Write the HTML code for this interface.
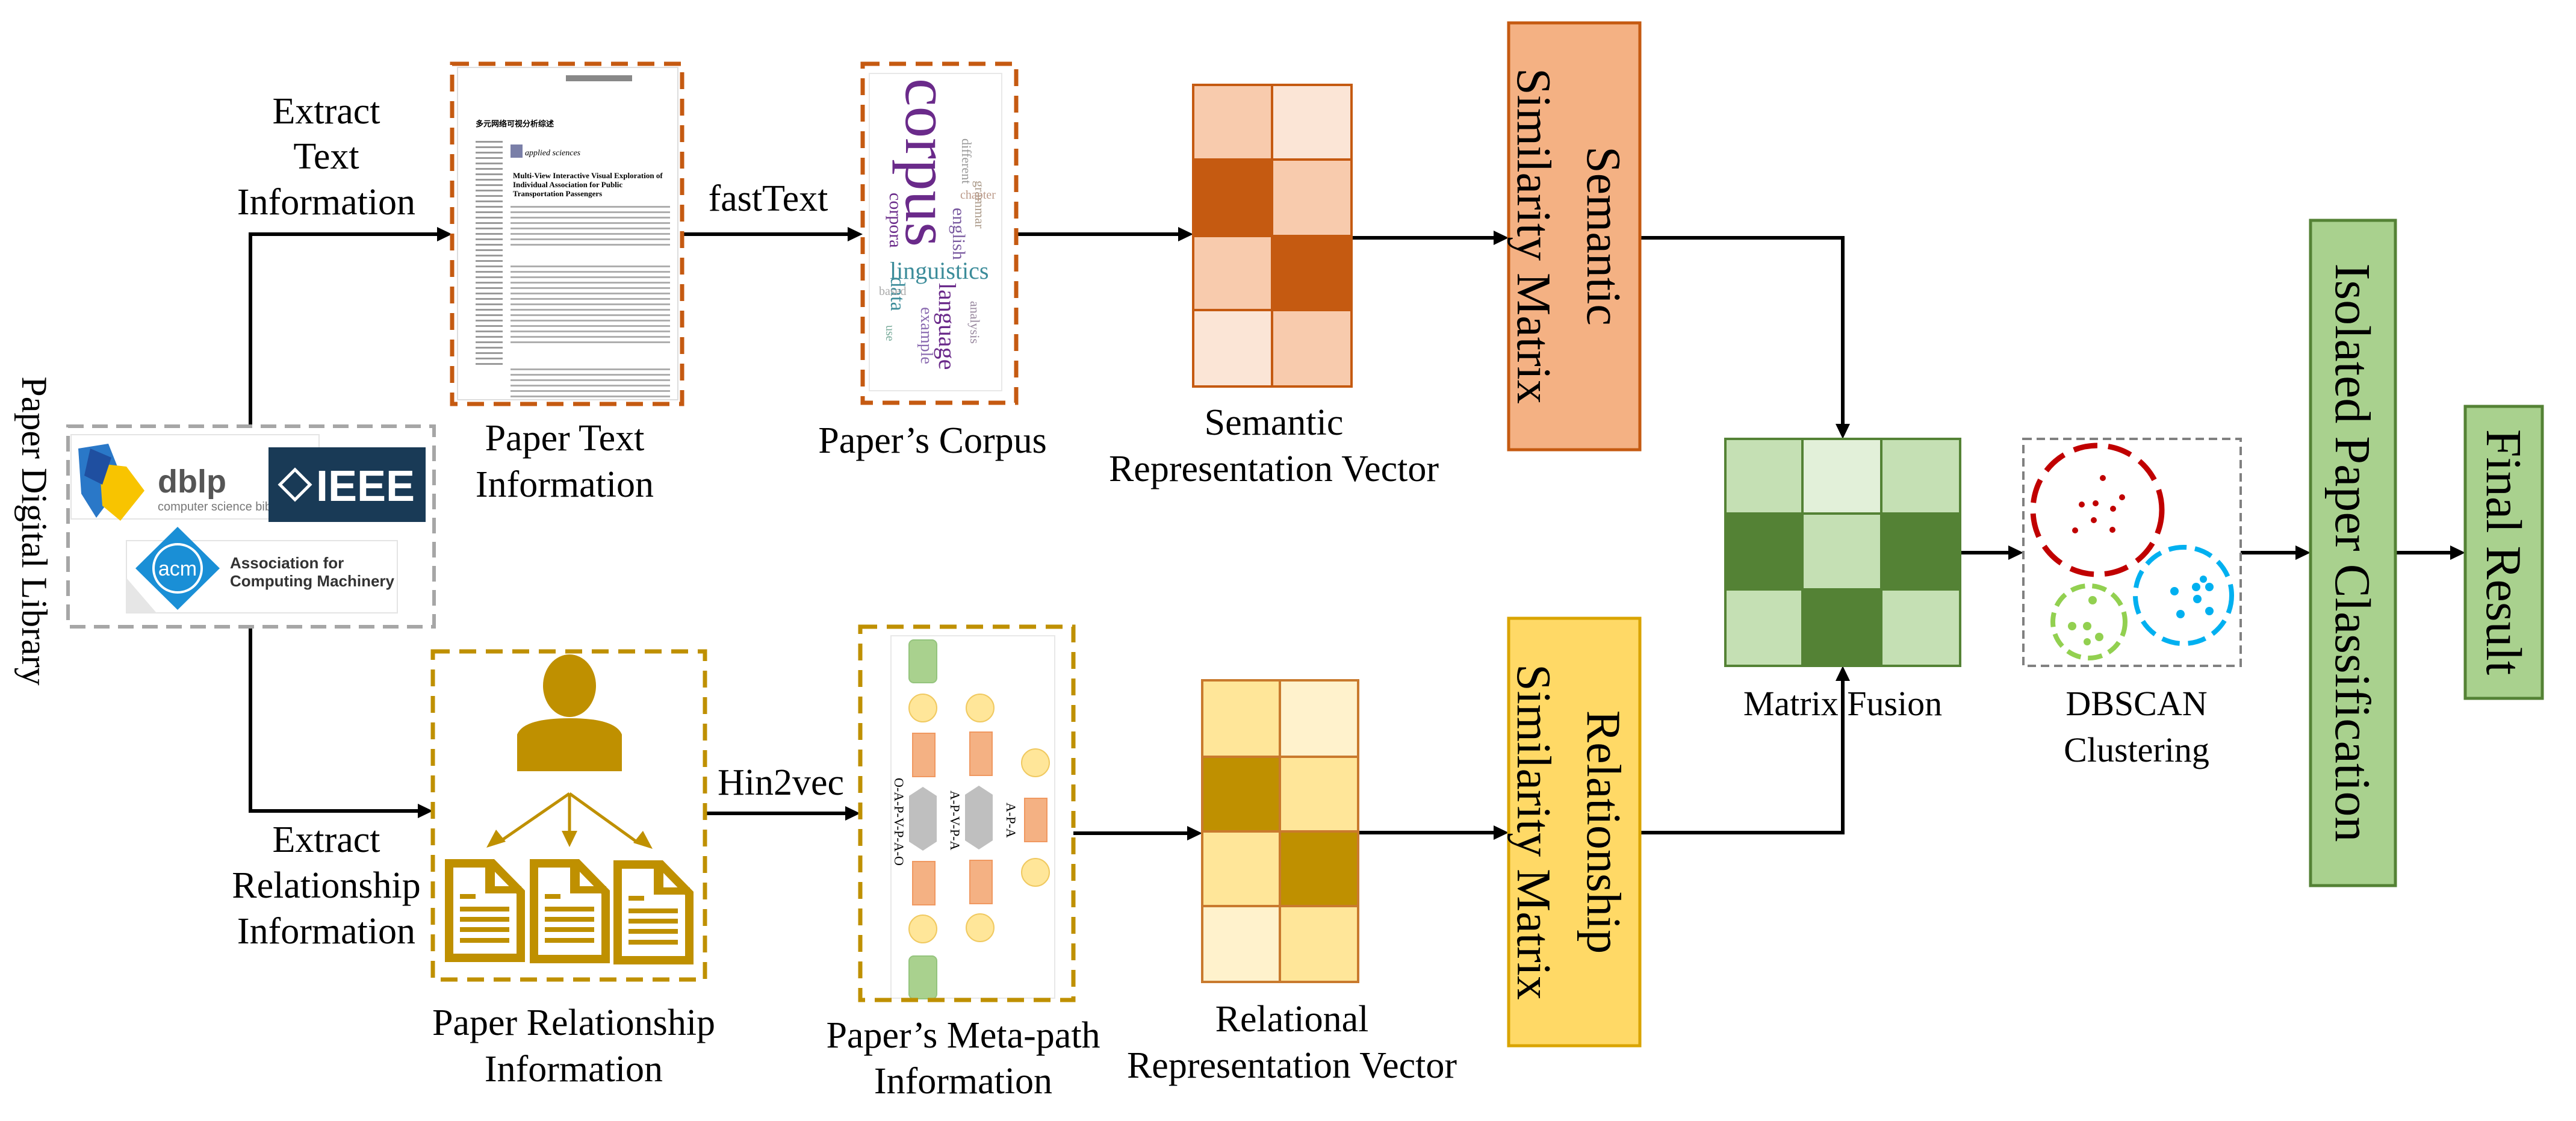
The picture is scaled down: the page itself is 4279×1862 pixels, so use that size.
<!DOCTYPE html>
<html><head><meta charset="utf-8">
<style>
html,body{margin:0;padding:0;background:#fff}
svg{display:block}
svg text{font-family:"Liberation Serif","Times New Roman",serif;fill:#000}
</style></head><body>
<svg width="4279" height="1862" viewBox="0 0 4279 1862" xmlns="http://www.w3.org/2000/svg" font-family="Liberation Serif, serif">
<defs>
<pattern id="lines" width="20" height="9" patternUnits="userSpaceOnUse"><rect x="0" y="0" width="20" height="3" fill="#9a9a9a"/></pattern>
</defs>

<!-- ========== Connectors ========== -->
<g stroke="#000" stroke-width="6" fill="none">
  <polyline points="416,707 416,389 730,389"/>
  <polyline points="416,1041 416,1347 698,1347"/>
  <line x1="1133" y1="389" x2="1412" y2="389"/>
  <line x1="1688" y1="389" x2="1962" y2="389"/>
  <line x1="1171" y1="1351" x2="1408" y2="1351"/>
  <line x1="1783" y1="1384" x2="1976" y2="1384"/>
  <line x1="2245" y1="395" x2="2486" y2="395"/>
  <line x1="2256" y1="1383" x2="2486" y2="1383"/>
  <polyline points="2724,395 3061,395 3061,710"/>
  <polyline points="2724,1383 3061,1383 3061,1126"/>
  <line x1="3256" y1="918" x2="3341" y2="918"/>
  <line x1="3722" y1="918" x2="3816" y2="918"/>
  <line x1="3979" y1="918" x2="4074" y2="918"/>
</g>
<g fill="#000">
  <polygon points="751,389 726,377 726,401"/>
  <polygon points="719,1347 694,1335 694,1359"/>
  <polygon points="1433,389 1408,377 1408,401"/>
  <polygon points="1982,389 1957,377 1957,401"/>
  <polygon points="1429,1351 1404,1339 1404,1363"/>
  <polygon points="1997,1384 1972,1372 1972,1396"/>
  <polygon points="2506,395 2481,383 2481,407"/>
  <polygon points="2506,1383 2481,1371 2481,1395"/>
  <polygon points="3061,729 3049,704 3073,704"/>
  <polygon points="3061,1106 3049,1131 3073,1131"/>
  <polygon points="3361,918 3336,906 3336,930"/>
  <polygon points="3838,918 3813,906 3813,930"/>
  <polygon points="4095,918 4070,906 4070,930"/>
</g>

<!-- ========== Labels ========== -->
<g font-size="62" text-anchor="middle" font-family="Liberation Serif, serif">
  <text x="542" y="205">Extract</text>
  <text x="542" y="280">Text</text>
  <text x="542" y="356">Information</text>
  <text x="1276" y="350">fastText</text>
  <text x="938" y="748">Paper Text</text>
  <text x="938" y="825">Information</text>
  <text x="1549" y="752">Paper’s Corpus</text>
  <text x="2116" y="722">Semantic</text>
  <text x="2116" y="799">Representation Vector</text>
  <text x="542" y="1415">Extract</text>
  <text x="542" y="1491">Relationship</text>
  <text x="542" y="1567">Information</text>
  <text x="1297" y="1320">Hin2vec</text>
  <text x="953" y="1719">Paper Relationship</text>
  <text x="953" y="1796">Information</text>
  <text x="1600" y="1740">Paper’s Meta-path</text>
  <text x="1600" y="1816">Information</text>
  <text x="2146" y="1713">Relational</text>
  <text x="2146" y="1790">Representation Vector</text>
</g>
<g font-size="58" text-anchor="middle" font-family="Liberation Serif, serif">
  <text x="3061" y="1188">Matrix Fusion</text>
  <text x="3549" y="1188">DBSCAN</text>
  <text x="3549" y="1265">Clustering</text>
</g>
<g transform="translate(57,882) rotate(90)"><text font-size="60" text-anchor="middle" y="20" font-family="Liberation Serif, serif">Paper Digital Library</text></g>

<!-- ========== Paper text box ========== -->
<rect x="760" y="112" width="366" height="552" fill="#fff" stroke="#ddd" stroke-width="2"/>
<rect x="940" y="125" width="110" height="10" fill="#888"/>
<text x="790" y="210" font-size="13" font-weight="bold">多元网络可视分析综述</text>
<rect x="848" y="240" width="20" height="22" fill="#7a7fa8"/>
<text x="872" y="258" font-size="14" fill="#3a4d8c" font-style="italic">applied sciences</text>
<text x="852" y="296" font-size="13" font-weight="bold">Multi-View Interactive Visual Exploration of</text>
<text x="852" y="311" font-size="13" font-weight="bold">Individual Association for Public</text>
<text x="852" y="326" font-size="13" font-weight="bold">Transportation Passengers</text>
<rect x="790" y="230" width="45" height="380" fill="url(#lines)"/>
<rect x="848" y="340" width="265" height="70" fill="url(#lines)" opacity="0.8"/>
<rect x="848" y="436" width="265" height="140" fill="url(#lines)" opacity="0.8"/>
<rect x="848" y="610" width="265" height="50" fill="url(#lines)" opacity="0.8"/>
<rect x="751" y="106" width="382" height="565" fill="none" stroke="#c55a11" stroke-width="7" stroke-dasharray="28,16"/>

<!-- ========== Corpus box ========== -->
<rect x="1444" y="122" width="220" height="527" fill="#fff" stroke="#e8e8e8" stroke-width="2"/>
<g font-family="Liberation Serif, serif">
<g transform="translate(1505,130) rotate(90)"><text font-size="105" style="fill:#6a2a8a">corpus</text></g>
<text x="1478" y="463" font-size="40" style="fill:#3c8c9a">linguistics</text>
<g transform="translate(1560,470) rotate(90)"><text font-size="40" style="fill:#6a2a8a">language</text></g>
<g transform="translate(1480,460) rotate(90)"><text font-size="34" style="fill:#3c8c9a">data</text></g>
<g transform="translate(1478,320) rotate(90)"><text font-size="30" style="fill:#6a2a8a">corpora</text></g>
<g transform="translate(1583,345) rotate(90)"><text font-size="30" style="fill:#7a5aa0">english</text></g>
<g transform="translate(1530,510) rotate(90)"><text font-size="28" style="fill:#8a6ab0">example</text></g>
<g transform="translate(1598,230) rotate(90)"><text font-size="22" style="fill:#999">different</text></g>
<g transform="translate(1620,300) rotate(90)"><text font-size="22" style="fill:#a98">grammar</text></g>
<g transform="translate(1612,500) rotate(90)"><text font-size="22" style="fill:#9a8aa0">analysis</text></g>
<g transform="translate(1472,540) rotate(90)"><text font-size="20" style="fill:#7a9">use</text></g>
<text x="1460" y="490" font-size="20" style="fill:#aaa">based</text>
<text x="1595" y="330" font-size="20" style="fill:#b98">chapter</text>
</g>
<rect x="1433" y="106" width="255" height="563" fill="none" stroke="#c55a11" stroke-width="7" stroke-dasharray="28,16"/>

<!-- ========== Semantic vector ========== -->
<g stroke="#c55a11" stroke-width="4">
<rect x="1982" y="141" width="131" height="124" fill="#f8cbad"/>
<rect x="2113" y="141" width="132" height="124" fill="#fbe5d6"/>
<rect x="1982" y="265" width="131" height="127" fill="#c55a11"/>
<rect x="2113" y="265" width="132" height="127" fill="#f8cbad"/>
<rect x="1982" y="392" width="131" height="123" fill="#f8cbad"/>
<rect x="2113" y="392" width="132" height="123" fill="#c55a11"/>
<rect x="1982" y="515" width="131" height="127" fill="#fbe5d6"/>
<rect x="2113" y="515" width="132" height="127" fill="#f8cbad"/>
</g>

<!-- ========== Library ========== -->
<rect x="113" y="708" width="608" height="333" fill="#fff" stroke="#a6a6a6" stroke-width="6" stroke-dasharray="26,14"/>
<rect x="118" y="722" width="412" height="140" fill="#fff" stroke="#e4e4e4" stroke-width="2"/>
<rect x="210" y="898" width="450" height="120" fill="#fff" stroke="#e4e4e4" stroke-width="2"/>
<polygon points="210,960 260,1018 210,1018" fill="#e6e6e6"/>
<polygon points="130,745 180,737 205,800 160,860 135,820" fill="#2a78c8"/>
<polygon points="165,770 210,775 240,815 200,865 170,840" fill="#f8c400"/>
<polygon points="150,745 185,760 170,805 140,790" fill="#1f4fa0"/>
<text x="262" y="818" font-family="Liberation Sans, sans-serif" style="font-family:'Liberation Sans',sans-serif;fill:#555" font-size="54" font-weight="bold">dblp</text>
<text x="262" y="848" style="font-family:'Liberation Sans',sans-serif;fill:#777" font-size="20">computer science bib</text>
<rect x="446" y="743" width="261" height="124" fill="#193a56"/>
<polygon points="490,780 515,805 490,830 465,805" fill="none" stroke="#fff" stroke-width="5"/>
<text x="525" y="832" style="font-family:'Liberation Sans',sans-serif;fill:#fff" font-size="72" font-weight="bold">IEEE</text>
<polygon points="295,875 365,944 295,1013 225,944" fill="#1a8fd6"/>
<circle cx="295" cy="944" r="40" fill="#1a8fd6" stroke="#fff" stroke-width="4"/>
<text x="295" y="956" text-anchor="middle" style="font-family:'Liberation Sans',sans-serif;fill:#fff" font-size="34">acm</text>
<text x="382" y="944" style="font-family:'Liberation Sans',sans-serif;fill:#333" font-size="26" font-weight="bold">Association for</text>
<text x="382" y="974" style="font-family:'Liberation Sans',sans-serif;fill:#333" font-size="26" font-weight="bold">Computing Machinery</text>

<!-- ========== Relationship box ========== -->
<ellipse cx="946" cy="1139" rx="44" ry="52" fill="#bf9000"/>
<path d="M859,1281 L859,1220 Q870,1193 946,1193 Q1022,1193 1033,1220 L1033,1281 Z" fill="#bf9000"/>
<g stroke="#bf9000" stroke-width="5" fill="none">
<line x1="946" y1="1318" x2="830" y2="1398"/>
<line x1="946" y1="1318" x2="946" y2="1400"/>
<line x1="946" y1="1318" x2="1060" y2="1400"/>
</g>
<g fill="#bf9000">
<polygon points="808,1408 824,1378 840,1398"/>
<polygon points="946,1407 933,1380 959,1380"/>
<polygon points="1084,1410 1052,1400 1068,1380"/>
</g>
<g fill="none" stroke="#bf9000" stroke-width="14">
<path d="M746,1434 L818,1434 L865,1482 L865,1591 L746,1591 Z"/>
<path d="M887,1434 L959,1434 L1006,1482 L1006,1593 L887,1593 Z"/>
<path d="M1026,1436 L1098,1436 L1145,1484 L1145,1595 L1026,1595 Z"/>
</g>
<g fill="#bf9000">
<polygon points="806,1432 822,1432 822,1472 866,1472 866,1484 806,1484"/>
<polygon points="947,1432 963,1432 963,1472 1007,1472 1007,1484 947,1484"/>
<polygon points="1086,1434 1102,1434 1102,1474 1146,1474 1146,1486 1086,1486"/>
<rect x="764" y="1485" width="26" height="8"/><rect x="764" y="1506" width="82" height="8"/><rect x="764" y="1523" width="82" height="8"/><rect x="764" y="1540" width="82" height="8"/><rect x="764" y="1558" width="82" height="8"/>
<rect x="905" y="1485" width="26" height="8"/><rect x="905" y="1506" width="82" height="8"/><rect x="905" y="1523" width="82" height="8"/><rect x="905" y="1540" width="82" height="8"/><rect x="905" y="1558" width="82" height="8"/>
<rect x="1044" y="1488" width="26" height="8"/><rect x="1044" y="1509" width="82" height="8"/><rect x="1044" y="1526" width="82" height="8"/><rect x="1044" y="1543" width="82" height="8"/><rect x="1044" y="1561" width="82" height="8"/>
</g>
<rect x="719" y="1082" width="452" height="545" fill="none" stroke="#bf9000" stroke-width="7" stroke-dasharray="28,16"/>

<!-- ========== Meta-path box ========== -->
<rect x="1480" y="1056" width="272" height="602" fill="#fff" stroke="#e8e8e8" stroke-width="2"/>
<g stroke="#94c47d" stroke-width="2" fill="#a9d18e">
<rect x="1510" y="1063" width="46" height="71" rx="8"/>
<rect x="1510" y="1588" width="46" height="71" rx="8"/>
</g>
<g fill="#ffe699" stroke="#f0c960" stroke-width="2">
<ellipse cx="1533" cy="1176" rx="23" ry="23"/><ellipse cx="1628" cy="1176" rx="23" ry="23"/>
<ellipse cx="1533" cy="1543" rx="23" ry="23"/><ellipse cx="1628" cy="1541" rx="23" ry="23"/>
<ellipse cx="1720" cy="1267" rx="23" ry="23"/><ellipse cx="1720" cy="1449" rx="23" ry="23"/>
</g>
<g fill="#f4b183" stroke="#f09860" stroke-width="2">
<rect x="1516" y="1218" width="37" height="72"/><rect x="1611" y="1216" width="37" height="72"/>
<rect x="1516" y="1431" width="37" height="72"/><rect x="1611" y="1429" width="37" height="72"/>
<rect x="1702" y="1326" width="37" height="72"/>
</g>
<g fill="#bfbfbf">
<polygon points="1533,1307 1556,1322 1556,1398 1533,1413 1510,1398 1510,1322"/>
<polygon points="1626,1305 1649,1320 1649,1396 1626,1411 1603,1396 1603,1320"/>
</g>
<g font-size="22" font-family="Liberation Serif, serif">
<g transform="translate(1486,1292) rotate(90)"><text>O-A-P-V-P-A-O</text></g>
<g transform="translate(1579,1313) rotate(90)"><text>A-P-V-P-A</text></g>
<g transform="translate(1672,1333) rotate(90)"><text>A-P-A</text></g>
</g>
<rect x="1429" y="1041" width="354" height="620" fill="none" stroke="#bf9000" stroke-width="7" stroke-dasharray="28,16"/>

<!-- ========== Relational vector ========== -->
<g stroke="#c97a2e" stroke-width="4">
<rect x="1997" y="1130" width="129" height="127" fill="#ffe699"/>
<rect x="2126" y="1130" width="130" height="127" fill="#fff2cc"/>
<rect x="1997" y="1257" width="129" height="124" fill="#bf9000"/>
<rect x="2126" y="1257" width="130" height="124" fill="#ffe699"/>
<rect x="1997" y="1381" width="129" height="124" fill="#ffe699"/>
<rect x="2126" y="1381" width="130" height="124" fill="#bf9000"/>
<rect x="1997" y="1505" width="129" height="126" fill="#fff2cc"/>
<rect x="2126" y="1505" width="130" height="126" fill="#ffe699"/>
</g>

<!-- ========== Similarity matrices ========== -->
<rect x="2506" y="38" width="218" height="709" fill="#f4b183" stroke="#c55a11" stroke-width="5"/>
<g transform="translate(2615,392) rotate(90)" font-size="80" text-anchor="middle" font-family="Liberation Serif, serif">
  <text y="-22">Semantic</text><text y="94">Similarity Matrix</text>
</g>
<rect x="2506" y="1027" width="218" height="710" fill="#ffd966" stroke="#d9a400" stroke-width="5"/>
<g transform="translate(2615,1382) rotate(90)" font-size="80" text-anchor="middle" font-family="Liberation Serif, serif">
  <text y="-22">Relationship</text><text y="94">Similarity Matrix</text>
</g>

<!-- ========== Matrix Fusion ========== -->
<g stroke="#548235" stroke-width="4">
<rect x="2866" y="729" width="128" height="124" fill="#c5e0b4"/>
<rect x="2994" y="729" width="131" height="124" fill="#e2f0d9"/>
<rect x="3125" y="729" width="131" height="124" fill="#c5e0b4"/>
<rect x="2866" y="853" width="128" height="126" fill="#548235"/>
<rect x="2994" y="853" width="131" height="126" fill="#c5e0b4"/>
<rect x="3125" y="853" width="131" height="126" fill="#548235"/>
<rect x="2866" y="979" width="128" height="127" fill="#c5e0b4"/>
<rect x="2994" y="979" width="131" height="127" fill="#548235"/>
<rect x="3125" y="979" width="131" height="127" fill="#c5e0b4"/>
</g>

<!-- ========== DBSCAN ========== -->
<rect x="3361" y="729" width="361" height="377" fill="none" stroke="#808080" stroke-width="4" stroke-dasharray="14,8"/>
<circle cx="3484" cy="847" r="107" fill="none" stroke="#c00000" stroke-width="9" stroke-dasharray="40,18"/>
<circle cx="3627" cy="989" r="80" fill="none" stroke="#00b0f0" stroke-width="8" stroke-dasharray="30,14"/>
<circle cx="3470" cy="1033" r="60" fill="none" stroke="#92d050" stroke-width="8" stroke-dasharray="24,12"/>
<g fill="#c00000">
<circle cx="3493" cy="794" r="5"/><circle cx="3458" cy="838" r="5"/><circle cx="3481" cy="836" r="5"/><circle cx="3525" cy="826" r="5"/><circle cx="3478" cy="864" r="5"/><circle cx="3510" cy="845" r="5"/><circle cx="3447" cy="881" r="5"/><circle cx="3509" cy="880" r="5"/>
</g>
<g fill="#00b0f0">
<circle cx="3612" cy="982" r="7"/><circle cx="3648" cy="975" r="7"/><circle cx="3670" cy="975" r="7"/><circle cx="3650" cy="995" r="7"/><circle cx="3622" cy="1020" r="7"/><circle cx="3670" cy="1015" r="7"/><circle cx="3660" cy="962" r="6"/>
</g>
<g fill="#92d050">
<circle cx="3476" cy="997" r="7"/><circle cx="3442" cy="1040" r="7"/><circle cx="3467" cy="1040" r="7"/><circle cx="3487" cy="1058" r="7"/><circle cx="3467" cy="1066" r="6"/>
</g>

<!-- ========== Isolated & Final ========== -->
<rect x="3838" y="366" width="141" height="1105" fill="#a9d18e" stroke="#548235" stroke-width="5"/>
<g transform="translate(3908,918) rotate(90)"><text font-size="84" text-anchor="middle" y="28" font-family="Liberation Serif, serif">Isolated Paper Classification</text></g>
<rect x="4095" y="675" width="128" height="485" fill="#a9d18e" stroke="#548235" stroke-width="5"/>
<g transform="translate(4159,917) rotate(90)"><text font-size="84" text-anchor="middle" y="28" font-family="Liberation Serif, serif">Final Result</text></g>
</svg>
</body></html>
